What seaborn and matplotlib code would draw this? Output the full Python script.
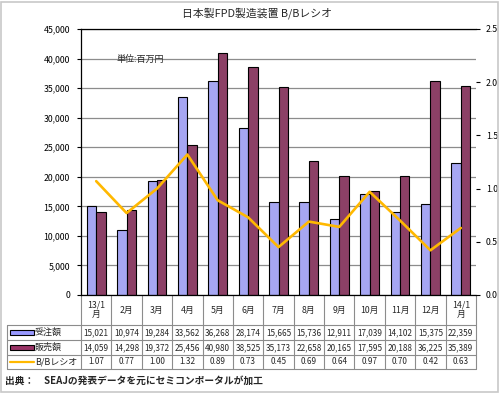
import numpy as np
import pandas as pd
import matplotlib.pyplot as plt
import matplotlib.transforms as mtransforms
from matplotlib.patches import Rectangle
from matplotlib.lines import Line2D
import seaborn as sns

# data
months = ['13/1\n月', '2月', '3月', '4月', '5月', '6月', '7月', '8月', '9月', '10月', '11月', '12月', '14/1\n月']
orders = [15021, 10974, 19284, 33562, 36268, 28174, 15665, 15736, 12911, 17039, 14102, 15375, 22359]
sales = [14059, 14298, 19372, 25456, 40980, 38525, 35173, 22658, 20165, 17595, 20188, 36225, 35389]
bb_ratio = [1.07, 0.77, 1.00, 1.32, 0.89, 0.73, 0.45, 0.69, 0.64, 0.97, 0.70, 0.42, 0.63]
series_names = ['受注額', '販売額', 'B/Bレシオ']

c_ord = '#9999FF'
c_sal = '#993366'
c_bb = '#FFB800'
c_grid = '#8C8C8C'

sns.set_style('white')
plt.rcParams['font.family'] = ['Noto Sans CJK JP', 'DejaVu Sans']

df = pd.DataFrame({
    'month': months * 2,
    'value': orders + sales,
    'series': [series_names[0]] * len(months) + [series_names[1]] * len(months),
})

W, H = 500, 393
fig = plt.figure(figsize=(W / 100, H / 100), dpi=100)
ax_l, ax_r, ax_t, ax_b = 81, 476, 29, 295
ax = fig.add_axes([ax_l / W, 1 - ax_b / H, (ax_r - ax_l) / W, (ax_b - ax_t) / H])

sns.barplot(data=df, x='month', y='value', hue='series', palette=[c_ord, c_sal],
            width=0.62, edgecolor='black', linewidth=0.8, ax=ax, legend=False)
ax.set_xlim(-0.5, len(months) - 0.5)
ax.set_ylim(0, 45000)
ax.set_yticks(np.arange(0, 45001, 5000))
ax.set_yticklabels([f'{v:,}' for v in range(0, 45001, 5000)], fontsize=6.3)
ax.set_xticks([])
ax.set_xlabel('')
ax.set_ylabel('')
ax.yaxis.grid(True, color=c_grid, lw=0.9)
ax.set_axisbelow(True)
ax.tick_params(axis='y', left=True, length=3, width=0.8, pad=5, colors='black')
for s in ['left', 'bottom', 'top']:
    ax.spines[s].set_color('black')
    ax.spines[s].set_linewidth(0.9)
ax.spines['right'].set_visible(False)

ax2 = ax.twinx()
sns.lineplot(x=np.arange(len(months)), y=bb_ratio, color=c_bb, lw=1.9, ax=ax2)
ax2.set_ylim(0, 2.5)
ax2.set_yticks(np.arange(0, 2.51, 0.5))
ax2.set_yticklabels([f'{v:.1f}' for v in np.arange(0, 2.51, 0.5)], fontsize=6.3)
ax2.tick_params(axis='y', right=True, length=3, width=0.8, pad=4, colors='black')
for s in ax2.spines.values():
    s.set_visible(False)
ax2.set_xlim(-0.5, len(months) - 0.5)

ax.text(0.09, 0.885, '単位:百万円', transform=ax.transAxes, fontsize=6.5, va='center')
fig.text(0.515, 1 - 13 / H, '日本製FPD製造装置 B/Bレシオ', ha='center', va='center', fontsize=7.8)

# data table under the chart
ppx = (ax_r - ax_l) / len(months)
def px2x(px):
    return (px - ax_l) / ppx - 0.5

def py2y(py):
    return (ax_b - py) / (ax_b - ax_t)

tr = mtransforms.blended_transform_factory(ax.transData, ax.transAxes)
rows_py = [295, 325, 340, 355, 369]
x_left = px2x(7)
x_right = len(months) - 0.5
line_kw = dict(color=c_grid, lw=0.8, transform=tr, clip_on=False)

for py in rows_py[1:]:
    ax.add_line(Line2D([x_left, x_right], [py2y(py)] * 2, **line_kw))
for i in range(len(months) + 1):
    ax.add_line(Line2D([i - 0.5] * 2, [0, py2y(rows_py[-1])], **line_kw))
ax.add_line(Line2D([x_left] * 2, [py2y(rows_py[1]), py2y(rows_py[-1])], **line_kw))

for i, m in enumerate(months):
    ax.text(i, py2y((rows_py[0] + rows_py[1]) / 2), m, transform=tr, ha='center', va='center',
            fontsize=6.3, linespacing=1.1)

table_vals = [[f'{v:,}' for v in orders], [f'{v:,}' for v in sales], [f'{v:.2f}' for v in bb_ratio]]
for r, vals in enumerate(table_vals):
    yc = py2y((rows_py[r + 1] + rows_py[r + 2]) / 2)
    for i, v in enumerate(vals):
        ax.text(i, yc, v, transform=tr, ha='center', va='center', fontsize=5.9)
    ax.text(px2x(35), yc, series_names[r], transform=tr, ha='left', va='center', fontsize=6.5)
    if r < 2:
        ax.add_patch(Rectangle((px2x(10), yc - py2y(ax_b - 2.5)), px2x(34) - px2x(10), py2y(ax_b - 5),
                               facecolor=[c_ord, c_sal][r], edgecolor='black', lw=0.8,
                               transform=tr, clip_on=False))
    else:
        ax.add_line(Line2D([px2x(10), px2x(34)], [yc, yc], color=c_bb, lw=1.6, transform=tr, clip_on=False))

fig.text(5 / W, 1 - 381 / H, '出典：　SEAJの発表データを元にセミコンポータルが加工',
         ha='left', va='center', fontsize=7.0, fontweight='bold')

fig.patches.append(Rectangle((0.002, 0.003), 0.994, 0.993, transform=fig.transFigure,
                             fill=False, edgecolor='#C8C8C8', lw=1.2))

fig.savefig('out.png', dpi=100)
